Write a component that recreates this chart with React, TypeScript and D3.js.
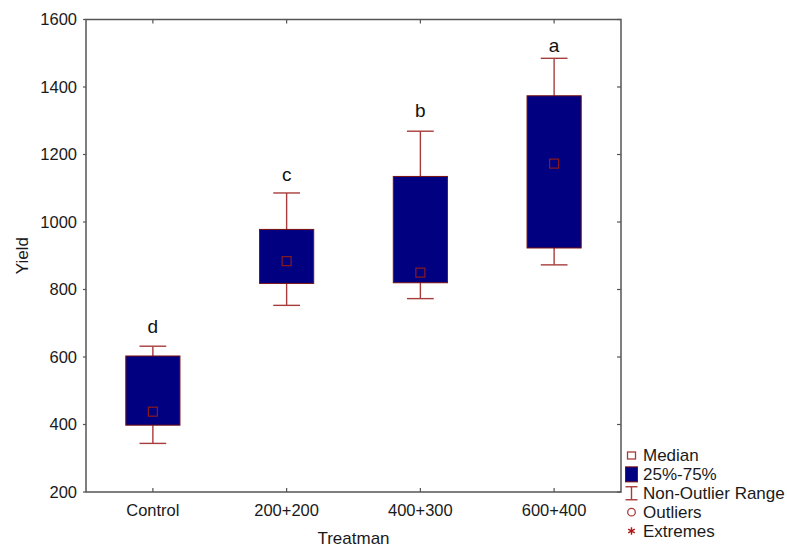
import React from "react";
import * as d3 from "d3";

const categories = ["Control", "200+200", "400+300", "600+400"];
const whiskerLow = [344, 753, 773, 873];
const q1 = [398, 818, 820, 923];
const median = [438, 884, 850, 1173];
const q3 = [603, 978, 1135, 1374];
const whiskerHigh = [632, 1086, 1269, 1485];
const groupLetters = ["d", "c", "b", "a"];
const letterValues = [671, 1121, 1310, 1505];
const yTicks = [200, 400, 600, 800, 1000, 1200, 1400, 1600];
const legendItems = ["Median", "25%-75%", "Non-Outlier Range", "Outliers", "Extremes"];

const W = 787;
const H = 552;
const M = { left: 86, right: 621, top: 19.5, bottom: 492 };
const FONT = "'Liberation Sans', Arial, sans-serif";
const BOX_FILL = "#000080";
const BOX_STROKE = "#7a1010";
const WHISK = "#a83c3c";
const AXIS = "#555";

export default function App() {
  const x = d3.scaleBand<string>().domain(categories).range([M.left, M.right]);
  const y = d3.scaleLinear().domain([200, 1600]).range([M.bottom, M.top]);
  const cx = (c: string) => (x(c) as number) + x.bandwidth() / 2;
  const boxW = x.bandwidth() * 0.405;
  const capW = x.bandwidth() * 0.2;
  const medS = 9;
  const legendY = d3.scalePoint<string>().domain(legendItems).range([455.5, 531]);
  const lx = 631.5;

  return (
    <svg width={W} height={H} style={{ position: "absolute", left: 0, top: 0, background: "#fff" }} fontFamily={FONT}>
      <rect x={0} y={0} width={W} height={H} fill="#fff" />
      {categories.map((c, i) => {
        const xc = cx(c);
        return (
          <g key={c}>
            <line x1={xc} x2={xc} y1={y(q3[i])} y2={y(whiskerHigh[i])} stroke={WHISK} strokeWidth={1.4} />
            <line x1={xc} x2={xc} y1={y(q1[i])} y2={y(whiskerLow[i])} stroke={WHISK} strokeWidth={1.4} />
            <line x1={xc - capW / 2} x2={xc + capW / 2} y1={y(whiskerHigh[i])} y2={y(whiskerHigh[i])} stroke={WHISK} strokeWidth={1.4} />
            <line x1={xc - capW / 2} x2={xc + capW / 2} y1={y(whiskerLow[i])} y2={y(whiskerLow[i])} stroke={WHISK} strokeWidth={1.4} />
            <rect x={xc - boxW / 2} y={y(q3[i])} width={boxW} height={y(q1[i]) - y(q3[i])} fill={BOX_FILL} stroke={BOX_STROKE} strokeWidth={1} />
            <rect x={xc - medS / 2} y={y(median[i]) - medS / 2} width={medS} height={medS} fill="none" stroke="#8b1a1a" strokeWidth={1.2} />
            <text x={xc} y={y(letterValues[i])} textAnchor="middle" fontSize={19} fill="#111">{groupLetters[i]}</text>
          </g>
        );
      })}
      <rect x={M.left} y={M.top} width={M.right - M.left} height={M.bottom - M.top} fill="none" stroke={AXIS} strokeWidth={1.5} />
      {yTicks.map((t) => (
        <g key={t}>
          <line x1={M.left - 3} x2={M.left} y1={y(t)} y2={y(t)} stroke={AXIS} strokeWidth={1.2} />
          <line x1={M.right - 4} x2={M.right} y1={y(t)} y2={y(t)} stroke={AXIS} strokeWidth={1.2} />
          <text x={M.left - 9} y={y(t)} dy="0.35em" textAnchor="end" fontSize={16.5} fill="#1a1a1a">{t}</text>
        </g>
      ))}
      {categories.map((c) => (
        <g key={"xt" + c}>
          <line x1={cx(c)} x2={cx(c)} y1={M.bottom - 4} y2={M.bottom} stroke={AXIS} strokeWidth={1.2} />
          <line x1={cx(c)} x2={cx(c)} y1={M.top} y2={M.top + 4} stroke={AXIS} strokeWidth={1.2} />
          <text x={cx(c)} y={516} textAnchor="middle" fontSize={16.5} fill="#1a1a1a">{c}</text>
        </g>
      ))}
      <text x={(M.left + M.right) / 2} y={544} textAnchor="middle" fontSize={17} fill="#1a1a1a">Treatman</text>
      <text transform={`translate(28,${(M.top + M.bottom) / 2}) rotate(-90)`} textAnchor="middle" fontSize={17} fill="#1a1a1a">Yield</text>
      <g>
        <rect x={lx - 4} y={legendY("Median")! - 3.5} width={8} height={7} fill="none" stroke="#a83c3c" strokeWidth={1.3} />
        <rect x={lx - 6} y={legendY("25%-75%")! - 7.5} width={12} height={15} fill={BOX_FILL} stroke={BOX_STROKE} strokeWidth={1} />
        <g stroke={WHISK} strokeWidth={1.4}>
          <line x1={lx - 6} x2={lx + 6} y1={legendY("Non-Outlier Range")! - 6.5} y2={legendY("Non-Outlier Range")! - 6.5} />
          <line x1={lx} x2={lx} y1={legendY("Non-Outlier Range")! - 6.5} y2={legendY("Non-Outlier Range")! + 6.5} />
          <line x1={lx - 6} x2={lx + 6} y1={legendY("Non-Outlier Range")! + 6.5} y2={legendY("Non-Outlier Range")! + 6.5} />
        </g>
        <circle cx={lx} cy={legendY("Outliers")!} r={3.8} fill="none" stroke={WHISK} strokeWidth={1.3} />
        <path
          d={d3.symbol().type(d3.symbolAsterisk).size(40)() as string}
          transform={`translate(${lx},${legendY("Extremes")!})`}
          fill="none"
          stroke="#b01818"
          strokeWidth={1.4}
        />
        {legendItems.map((l) => (
          <text key={l} x={643} y={legendY(l)!} dy="0.35em" fontSize={17} fill="#1a1a1a">{l}</text>
        ))}
      </g>
    </svg>
  );
}
